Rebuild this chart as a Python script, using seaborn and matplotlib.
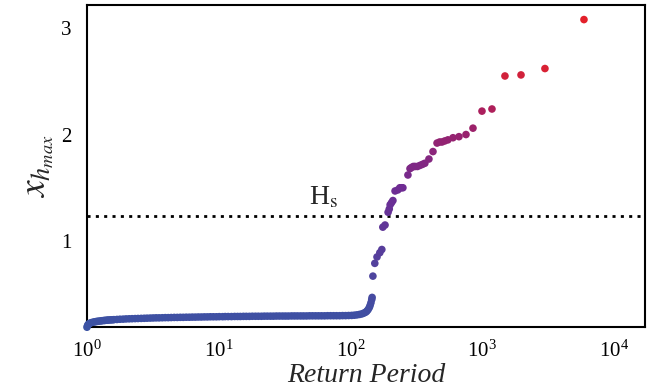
import numpy as np
import pandas as pd
import matplotlib
matplotlib.use("Agg")
import matplotlib.pyplot as plt
from matplotlib.colors import LinearSegmentedColormap
import seaborn as sns

# Ranked maxima: return period vs. normalised maximum height
flat_return_period = [
    1.00, 1.01, 1.02, 1.035, 1.05, 1.08, 1.11, 1.14, 1.17, 1.20, 1.23, 1.27,
    1.30, 1.34, 1.37, 1.41, 1.44, 1.48, 1.52, 1.56, 1.60, 1.69, 1.78, 1.88,
    1.98, 2.09, 2.20, 2.32, 2.44, 2.58, 2.72, 2.86, 3.02, 3.18, 3.35, 3.53,
    3.73, 3.93, 4.14, 4.36, 4.60, 4.85, 5.11, 5.38, 5.67, 5.98, 6.30, 6.64,
    7.00, 7.38, 7.78, 8.20, 8.64, 9.10, 9.60, 10.1, 10.7, 11.2, 11.8, 12.5,
    13.2, 13.9, 14.6, 15.4, 16.2, 17.1, 18.0, 19.0, 20.0, 21.1, 22.2, 23.4,
    24.7, 26.0, 27.4, 28.9, 30.5, 32.1, 33.8, 35.7, 37.6, 39.6, 41.8, 44.0,
    46.4, 48.9, 51.5, 54.3, 57.2, 60.3, 63.6, 67.0, 70.6, 74.4, 78.4, 82.7,
    87.1, 91.8, 96.8, 102, 107, 112, 117, 122, 126, 130, 133, 136, 139, 141,
    143, 145,
]
flat_xh_max = [
    0.190, 0.205, 0.215, 0.222, 0.228, 0.233, 0.237, 0.240, 0.243, 0.245,
    0.247, 0.249, 0.251, 0.253, 0.254, 0.256, 0.257, 0.258, 0.259, 0.260,
    0.261, 0.263, 0.265, 0.266, 0.268, 0.269, 0.270, 0.271, 0.272, 0.273,
    0.274, 0.275, 0.276, 0.277, 0.278, 0.278, 0.279, 0.280, 0.280, 0.281,
    0.282, 0.282, 0.283, 0.283, 0.284, 0.284, 0.285, 0.285, 0.286, 0.286,
    0.287, 0.287, 0.288, 0.288, 0.288, 0.289, 0.289, 0.290, 0.290, 0.290,
    0.291, 0.291, 0.291, 0.292, 0.292, 0.292, 0.293, 0.293, 0.293, 0.293,
    0.294, 0.294, 0.294, 0.294, 0.295, 0.295, 0.295, 0.295, 0.295, 0.296,
    0.296, 0.296, 0.296, 0.296, 0.296, 0.297, 0.297, 0.297, 0.297, 0.297,
    0.297, 0.298, 0.298, 0.298, 0.298, 0.298, 0.299, 0.299, 0.300, 0.301,
    0.303, 0.306, 0.310, 0.315, 0.322, 0.330, 0.340, 0.355, 0.375, 0.395,
    0.420, 0.450,
]
tail_return_period = [
    146, 148, 153, 159, 167, 173, 176, 183, 193, 197, 200, 205, 210, 218,
    229, 237, 243, 250, 273, 283, 290, 300, 309, 322, 337, 352, 367, 394,
    423, 454, 475, 495, 520, 549, 600, 666, 753, 851, 996, 1186, 1488, 1970,
    2993, 5920,
]
tail_xh_max = [
    0.47, 0.67, 0.79, 0.85, 0.89, 0.92, 1.13, 1.15, 1.27, 1.30, 1.34, 1.36,
    1.38, 1.47, 1.48, 1.50, 1.50, 1.50, 1.62, 1.68, 1.69, 1.70, 1.70, 1.70,
    1.71, 1.72, 1.73, 1.77, 1.84, 1.92, 1.93, 1.93, 1.94, 1.95, 1.97, 1.98,
    2.00, 2.06, 2.22, 2.24, 2.55, 2.56, 2.62, 3.08,
]
hs_level = 1.235

df = pd.DataFrame({
    "return_period": flat_return_period + tail_return_period,
    "xh_max": flat_xh_max + tail_xh_max,
})

sns.set_style("white")
plt.rcParams["font.family"] = ["Liberation Serif", "DejaVu Serif"]
plt.rcParams["mathtext.fontset"] = "stix"

cmap = LinearSegmentedColormap.from_list(
    "blue_red",
    [(0.0, "#3B53A4"), (0.45, "#6E2C94"), (0.68, "#A41F63"),
     (0.85, "#DB2132"), (1.0, "#E3202A")],
)

fig = plt.figure(figsize=(6.5, 3.92), dpi=100)
ax = fig.add_axes([0.1338, 0.1658, 0.8585, 0.8212])

sns.scatterplot(
    data=df, x="return_period", y="xh_max", hue="xh_max",
    palette=cmap, hue_norm=(df["xh_max"].min(), df["xh_max"].max()),
    s=30, edgecolor="none", linewidth=0, legend=False, ax=ax, zorder=3,
)
for coll in ax.collections:
    coll.set_clip_on(False)

ax.axhline(hs_level, color="black", lw=2.0, dashes=(1.1, 1.9), zorder=2)
ax.text(62, hs_level + 0.11, r"H$_{\rm s}$", fontsize=20, ha="center",
        va="baseline")

ax.set_xscale("log")
ax.set_xlim(1, 17200)
ax.set_ylim(0.192, 3.216)
ax.set_yticks([1, 2, 3])
ax.minorticks_off()
ax.xaxis.set_minor_locator(matplotlib.ticker.NullLocator())

ax.tick_params(axis="both", direction="in", length=5, width=1,
               labelsize=15, colors="black")
ax.tick_params(axis="x", pad=10)
ax.tick_params(axis="y", pad=11)

for side in ax.spines.values():
    side.set_linewidth(1.5)
    side.set_color("black")

ax.set_xlabel("Return Period", fontsize=20, style="italic", labelpad=1)
ax.set_ylabel(r"$x_{h_{max}}$", fontsize=27, labelpad=4)

fig.savefig("out.png", dpi=100)
